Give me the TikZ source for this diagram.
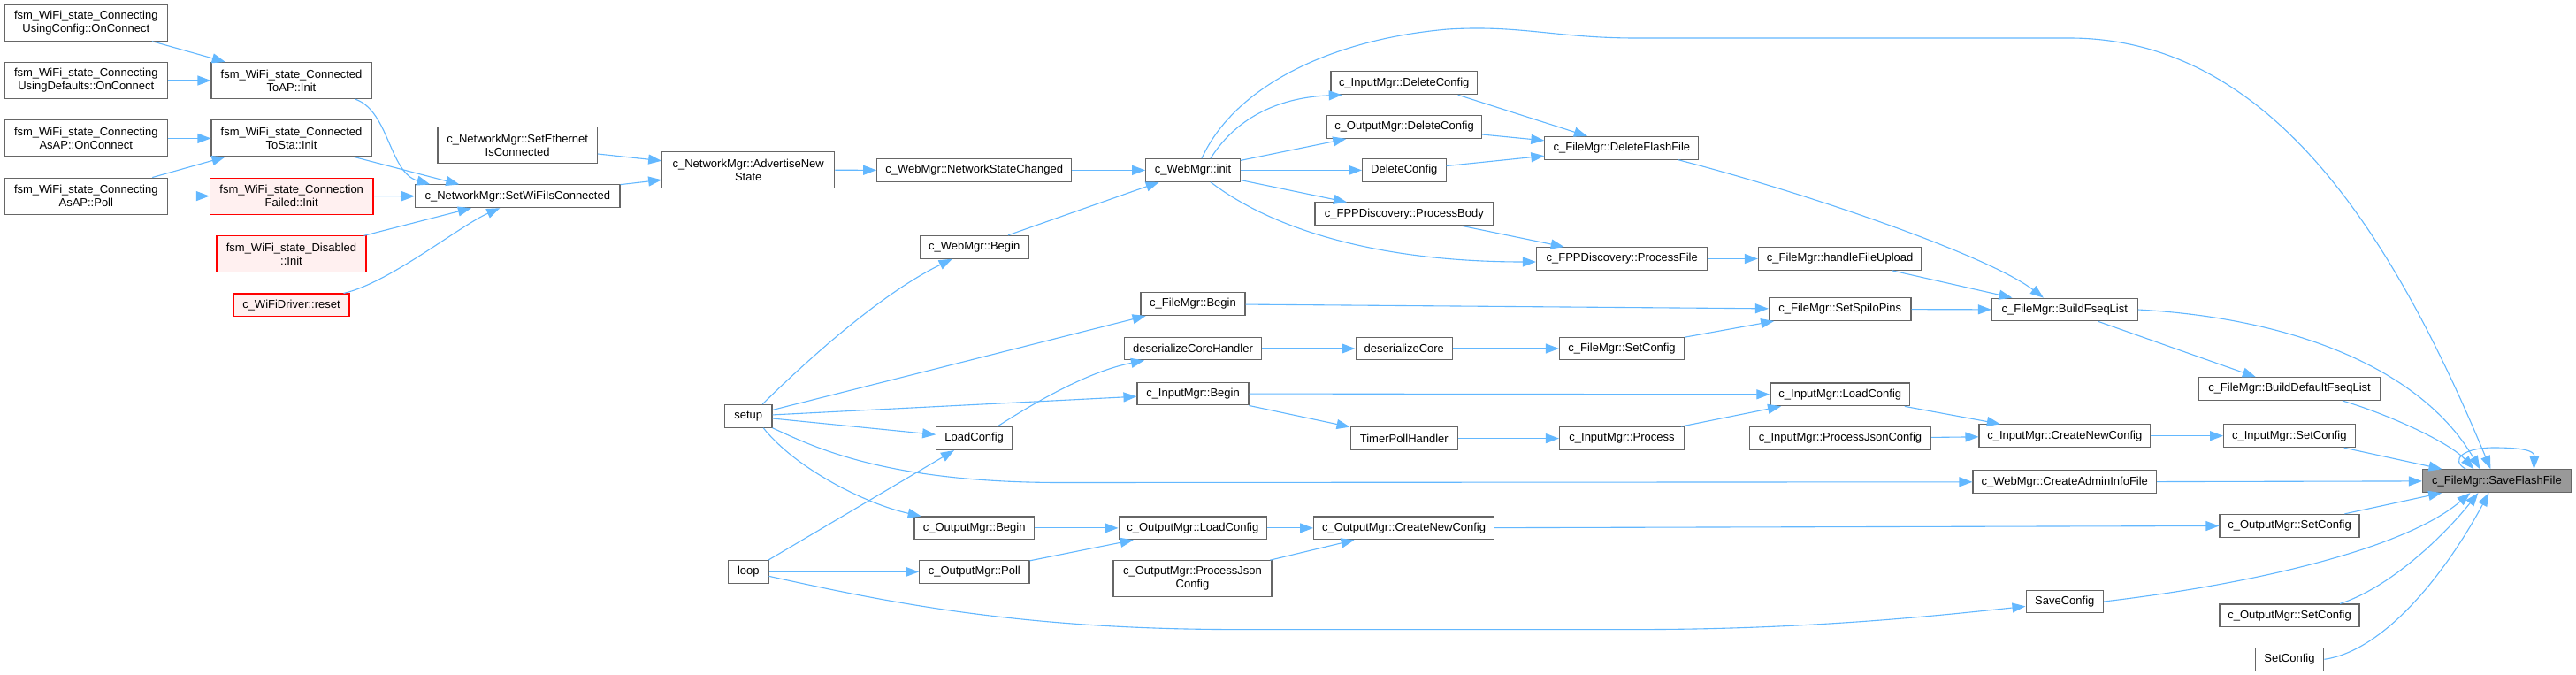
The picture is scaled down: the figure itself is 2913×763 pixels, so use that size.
\documentclass[tikz,border=0pt]{standalone}
\usepackage{fontspec}
\setmainfont{Liberation Sans}
\usepackage{xcolor}
\usepackage{tikz}
\usetikzlibrary{arrows.meta}

\definecolor{edgeblue}{HTML}{63B8FF}
\definecolor{boxgray}{HTML}{666666}
\definecolor{rootfill}{HTML}{999999}
\definecolor{redline}{HTML}{FF0000}
\definecolor{redfill}{HTML}{FFF0F0}

\begin{document}
\begin{tikzpicture}[x=1pt, y=-1pt,
        fn/.style={rectangle, draw=boxgray, line width=1.1pt, fill=white,
            minimum height=25.8pt, inner xsep=2pt, inner ysep=0pt, align=center,
            font=\fontsize{13}{15}\selectfont},
        fn2/.style={fn, minimum height=41pt},
        warn/.style={draw=redline, fill=redfill},
        root/.style={fill=rootfill},
        call/.style={draw=edgeblue, line width=1.1pt, -{Triangle[length=15pt, width=11pt]}}
    ]
        \fill[white] (0,0) rectangle (2913,763);
        \useasboundingbox (0,0) rectangle (2913,763);

        % wifi state machine
        \node[fn2, minimum width=184.5pt] (uconf) at (97.3,25.6) {fsm\_WiFi\_state\_Connecting\\UsingConfig::OnConnect};
        \node[fn2, minimum width=184.5pt] (udef) at (97.3,91) {fsm\_WiFi\_state\_Connecting\\UsingDefaults::OnConnect};
        \node[fn2, minimum width=184.5pt] (apconn) at (97.3,156.4) {fsm\_WiFi\_state\_Connecting\\AsAP::OnConnect};
        \node[fn2, minimum width=184.5pt] (appoll) at (97.3,221.6) {fsm\_WiFi\_state\_Connecting\\AsAP::Poll};
        \node[fn2, minimum width=181pt] (toap) at (329.5,91) {fsm\_WiFi\_state\_Connected\\ToAP::Init};
        \node[fn2, minimum width=181pt] (tosta) at (329.5,156.4) {fsm\_WiFi\_state\_Connected\\ToSta::Init};
        \node[fn2, warn, minimum width=184.6pt] (connfail) at (329.7,221.6) {fsm\_WiFi\_state\_Connection\\Failed::Init};
        \node[fn2, warn, minimum width=169pt] (disabled) at (329.5,287.4) {fsm\_WiFi\_state\_Disabled\\::Init};
        \node[fn, warn, minimum width=131pt] (reset) at (329.5,344.9) {c\_WiFiDriver::reset};

        % network
        \node[fn2, minimum width=180.5pt] (setether) at (585.2,164.3) {c\_NetworkMgr::SetEthernet\\IsConnected};
        \node[fn, minimum width=231.3pt] (setwifi) at (585.3,221.8) {c\_NetworkMgr::SetWiFiIsConnected};
        \node[fn2, minimum width=195pt] (advert) at (846.2,192.2) {c\_NetworkMgr::AdvertiseNew\\State};
        \node[fn, minimum width=53.6pt] (setup) at (846.2,470.3) {setup};
        \node[fn, minimum width=45.4pt] (loop) at (846.3,646.4) {loop};

        \node[fn, minimum width=220.2pt] (netchanged) at (1101.7,192.4) {c\_WebMgr::NetworkStateChanged};
        \node[fn, minimum width=122.5pt] (webbegin) at (1101.7,279.3) {c\_WebMgr::Begin};
        \node[fn, minimum width=86pt] (loadcfg) at (1101.7,495.6) {LoadConfig};
        \node[fn, minimum width=135.5pt] (outbegin) at (1101.7,596.9) {c\_OutputMgr::Begin};
        \node[fn, minimum width=124.4pt] (outpoll) at (1101.8,646.4) {c\_OutputMgr::Poll};

        \node[fn, minimum width=106.7pt] (webinit) at (1349,192.4) {c\_WebMgr::init};
        \node[fn, minimum width=118pt] (filebegin) at (1349,343.6) {c\_FileMgr::Begin};
        \node[fn, minimum width=155pt] (corehandler) at (1349,394) {deserializeCoreHandler};
        \node[fn, minimum width=126pt] (inbegin) at (1349,445) {c\_InputMgr::Begin};
        \node[fn, minimum width=167.5pt] (outload) at (1348.8,596.9) {c\_OutputMgr::LoadConfig};
        \node[fn2, minimum width=179pt] (outjson) at (1348.5,654.2) {c\_OutputMgr::ProcessJson\\Config};

        \node[fn, minimum width=165.4pt] (indelete) at (1587.7,93.8) {c\_InputMgr::DeleteConfig};
        \node[fn, minimum width=175pt] (outdelete) at (1588,143.5) {c\_OutputMgr::DeleteConfig};
        \node[fn, minimum width=94.5pt] (delcfg) at (1587.8,192.4) {DeleteConfig};
        \node[fn, minimum width=201.6pt] (procbody) at (1587.8,241.9) {c\_FPPDiscovery::ProcessBody};
        \node[fn, minimum width=109.5pt] (core) at (1587.8,394) {deserializeCore};
        \node[fn, minimum width=121.5pt] (timerpoll) at (1587.8,495.6) {TimerPollHandler};
        \node[fn, minimum width=204pt] (outcreate) at (1587.6,596.9) {c\_OutputMgr::CreateNewConfig};

        \node[fn, minimum width=174pt] (delflash) at (1833.9,167.3) {c\_FileMgr::DeleteFlashFile};
        \node[fn, minimum width=193.5pt] (procfile) at (1834.2,292.5) {c\_FPPDiscovery::ProcessFile};
        \node[fn, minimum width=141pt] (filesetcfg) at (1834,394) {c\_FileMgr::SetConfig};
        \node[fn, minimum width=141pt] (inprocess) at (1834,495.6) {c\_InputMgr::Process};

        \node[fn, minimum width=184.6pt] (upload) at (2080.7,292.5) {c\_FileMgr::handleFileUpload};
        \node[fn, minimum width=160.5pt] (spiio) at (2080.7,349.5) {c\_FileMgr::SetSpiIoPins};
        \node[fn, minimum width=157.7pt] (inload) at (2080.8,445.9) {c\_InputMgr::LoadConfig};
        \node[fn, minimum width=205pt] (injson) at (2081,495.6) {c\_InputMgr::ProcessJsonConfig};

        \node[fn, minimum width=164.8pt] (fseq) at (2334.8,350) {c\_FileMgr::BuildFseqList};
        \node[fn, minimum width=193.6pt] (increate) at (2334.8,492.7) {c\_InputMgr::CreateNewConfig};
        \node[fn, minimum width=207.6pt] (adminfile) at (2334.8,544.8) {c\_WebMgr::CreateAdminInfoFile};
        \node[fn, minimum width=87.5pt] (savecfg) at (2334.8,680) {SaveConfig};

        \node[fn, minimum width=205pt] (deffseq) at (2589,439.6) {c\_FileMgr::BuildDefaultFseqList};
        \node[fn, minimum width=148.5pt] (insetcfg) at (2588.8,492.7) {c\_InputMgr::SetConfig};
        \node[fn, minimum width=158pt] (outsetcfg) at (2589,594.3) {c\_OutputMgr::SetConfig};
        \node[fn, minimum width=158pt] (outsetcfgb) at (2589,695.9) {c\_OutputMgr::SetConfig};
        \node[fn, minimum width=77.7pt] (setcfg) at (2589,745.3) {SetConfig};

        % the function itself
        \node[fn, root, minimum width=168pt] (saveflash) at (2823.4,543.7) {c\_FileMgr::SaveFlashFile};

        % calls
        \draw[call] (uconf) -- (toap);
        \draw[call] (udef) -- (toap);
        \draw[call] (apconn) -- (tosta);
        \draw[call] (appoll) -- (tosta);
        \draw[call] (appoll) -- (connfail);
        \draw[call] ([xshift=72pt]toap.south) .. controls (440,125) and (440,195) .. ([xshift=-99pt]setwifi.north);
        \draw[call] ([xshift=71pt]tosta.south) -- ([xshift=-66pt]setwifi.north);
        \draw[call] (connfail) -- (setwifi);
        \draw[call] (disabled) -- (setwifi);
        \draw[call] ([xshift=59pt]reset.north) .. controls (440,320) and (520,255) .. ([xshift=-20pt]setwifi.south);
        \draw[call] (setether) -- (advert);
        \draw[call] (setwifi) -- (advert);
        \draw[call] (advert) -- (netchanged);
        \draw[call] (netchanged) -- (webinit);
        \draw[call] (webbegin) -- (webinit);

        \draw[call] ([xshift=16pt]setup.north) .. controls (920,400) and (1000,330) .. ([xshift=-25pt]webbegin.south);
        \draw[call] (setup) -- (filebegin);
        \draw[call] (setup) -- (inbegin);
        \draw[call] (setup) -- (loadcfg);
        \draw[call] ([xshift=17pt]setup.south) .. controls (900,530) and (980,570) .. ([xshift=-60pt]outbegin.north);
        \draw[call] (setup.south east) .. controls (920,505) and (1000,545.5) .. (1200,545.5) -- (adminfile.west);
        \draw[call] (loop) -- (loadcfg);
        \draw[call] (loop) -- (outpoll);
        \draw[call] (loop.-12) .. controls (1000,680) and (1150,711.6) .. (1400,711.6) -- (1850,711.6) .. controls (2050,711.6) and (2200,695) .. (savecfg.187);

        \draw[call] ([xshift=26pt]loadcfg.north) .. controls (1170,455) and (1230,420) .. ([xshift=-55pt]corehandler.south);
        \draw[call] (corehandler) -- (core);
        \draw[call] (core) -- (filesetcfg);
        \draw[call] (filesetcfg) -- (spiio);
        \draw[call] (filebegin) -- (spiio);
        \draw[call] (spiio) -- (fseq);
        \draw[call] (inbegin) -- (inload);
        \draw[call] (inbegin) -- (timerpoll);
        \draw[call] (timerpoll) -- (inprocess);
        \draw[call] (inprocess) -- (inload);
        \draw[call] (inload) -- (increate);
        \draw[call] (injson) -- (increate);
        \draw[call] (increate) -- (insetcfg);
        \draw[call] (insetcfg) -- (saveflash);

        \draw[call] ([xshift=20pt]webinit.north) .. controls (1400,130) and (1450,110) .. ([xshift=-70pt]indelete.south);
        \draw[call] (webinit) -- (outdelete);
        \draw[call] (webinit) -- (delcfg);
        \draw[call] (webinit) -- (procbody);
        \draw[call] ([xshift=20pt]webinit.south) .. controls (1440,260) and (1560,296) .. ([yshift=-3.5pt]procfile.west);
        \draw[call] ([xshift=10pt]webinit.north) .. controls (1395,100) and (1500,45) .. (1637,33)
            .. controls (1720,28) and (1760,43) .. (1850,43) -- (2340,43)
            .. controls (2560,43) and (2700,250) .. ([xshift=-7pt]saveflash.north);
        \draw[call] ([xshift=61pt]indelete.south) -- ([xshift=-39pt]delflash.north);
        \draw[call] (outdelete) -- (delflash);
        \draw[call] (delcfg) -- (delflash);
        \draw[call] (procbody) -- (procfile);
        \draw[call] (procfile) -- (upload);
        \draw[call] ([xshift=64pt]delflash.south) .. controls (2050,220) and (2250,290) .. ([xshift=-24pt]fseq.north);
        \draw[call] (upload) -- (fseq);
        \draw[call] (fseq.east) .. controls (2600,360) and (2740,420) .. ([xshift=-19pt]saveflash.north);
        \draw[call] (fseq) -- (deffseq);
        \draw[call] ([xshift=60pt]deffseq.south) .. controls (2700,468) and (2770,500) .. ([xshift=-26pt]saveflash.north);
        \draw[call] (adminfile) -- (saveflash);

        \draw[call] (outbegin) -- (outload);
        \draw[call] (outpoll) -- (outload);
        \draw[call] (outload) -- (outcreate);
        \draw[call] (outjson) -- (outcreate);
        \draw[call] (outcreate) -- (outsetcfg);
        \draw[call] (outsetcfg) -- (saveflash);
        \draw[call] (savecfg.east) .. controls (2550,660) and (2720,620) .. ([xshift=-30pt]saveflash.south);
        \draw[call] ([xshift=57pt]outsetcfgb.north) .. controls (2700,665) and (2760,610) .. ([xshift=-21pt]saveflash.south);
        \draw[call] (setcfg.east) .. controls (2700,735) and (2770,640) .. ([xshift=-9pt]saveflash.south);
        \draw[call] ([xshift=-35pt]saveflash.north) .. controls (2770,520) and (2785,506) .. (2820,506)
            .. controls (2855,506) and (2866,510) .. ([xshift=42pt]saveflash.north);
    \end{tikzpicture}
\end{document}
